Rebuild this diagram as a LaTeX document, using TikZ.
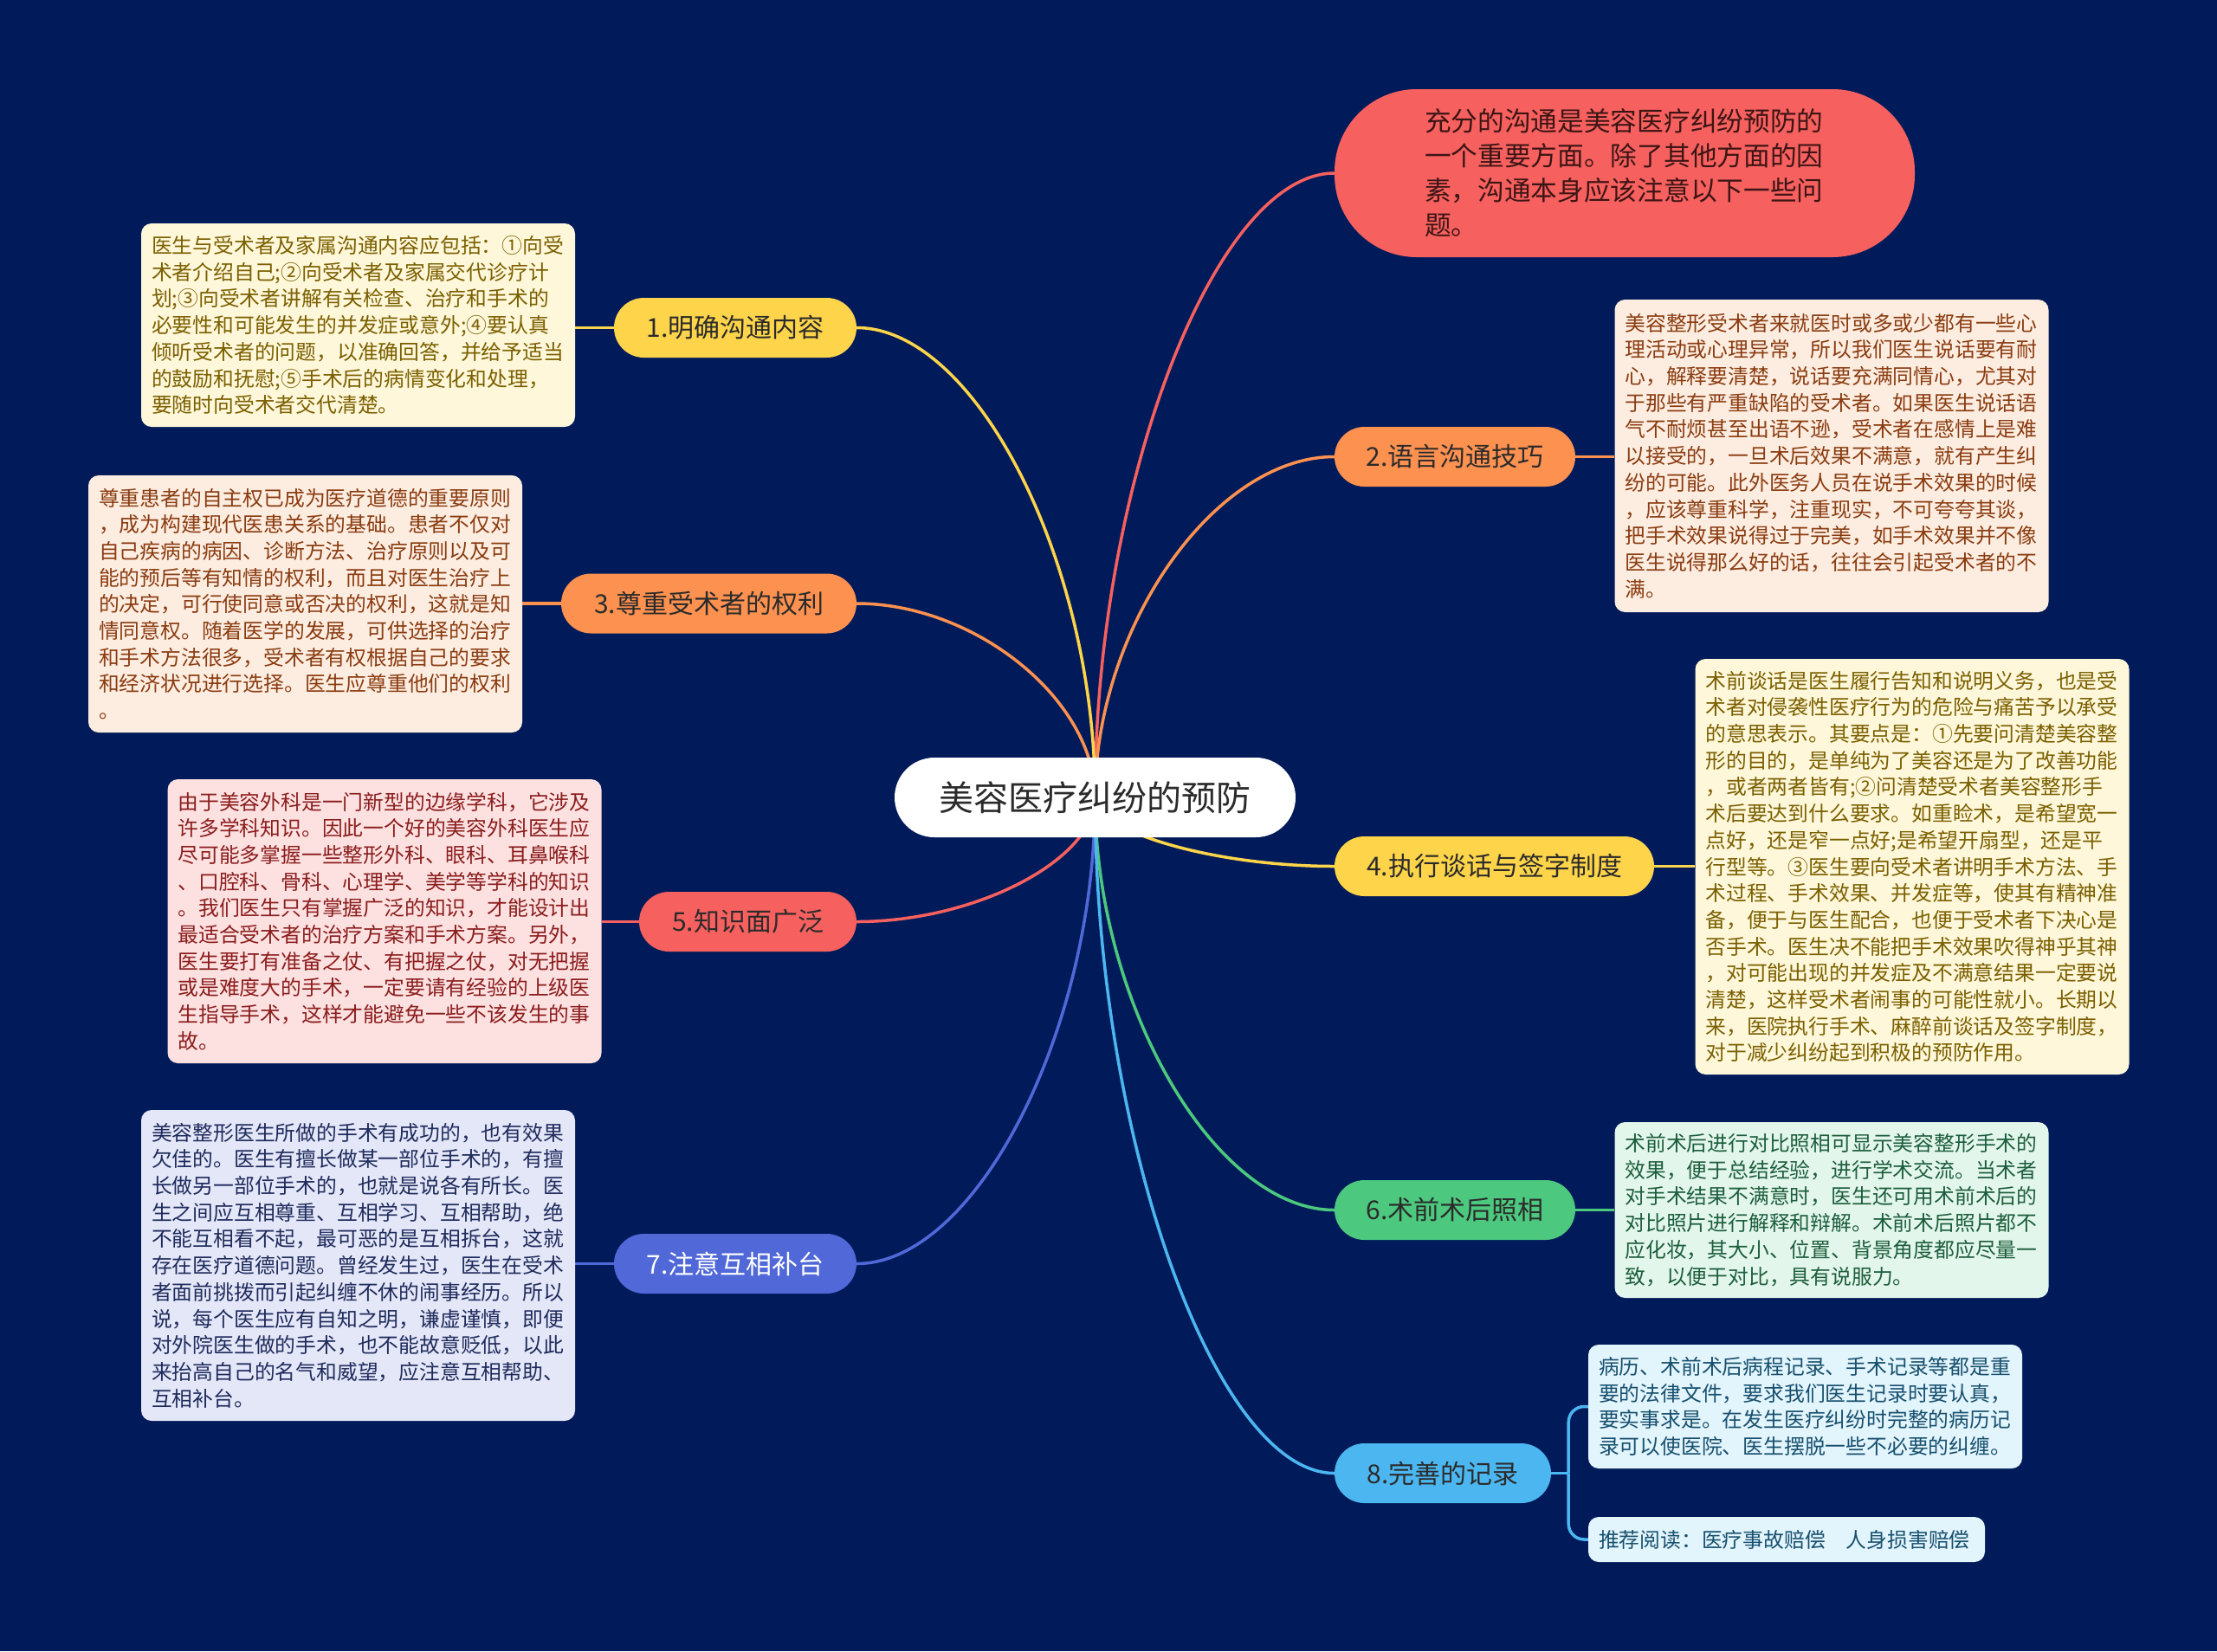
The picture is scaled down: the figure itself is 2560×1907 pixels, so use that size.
\documentclass[tikz,border=0pt]{standalone}
\usepackage{fontspec}
\setmainfont{Noto Sans CJK SC}
\usetikzlibrary{calc}
\pgfdeclarelayer{bgl}
\pgfdeclarelayer{edges}
\pgfsetlayers{bgl,edges,main}
\definecolor{bgc}{RGB}{1,27,90}
\definecolor{cyel}{HTML}{FDD44A}
\definecolor{cora}{HTML}{FD9150}
\definecolor{cred}{HTML}{F6605E}
\definecolor{cgrn}{HTML}{4CC97E}
\definecolor{cblu}{HTML}{5068D8}
\definecolor{csky}{HTML}{4CB6F0}
\definecolor{tdark}{HTML}{2B2B2B}
\definecolor{fyel}{HTML}{FEF7DA}
\definecolor{tyel}{HTML}{7B6000}
\definecolor{fora}{HTML}{FDEDE1}
\definecolor{tora}{HTML}{8A3C10}
\definecolor{fred}{HTML}{FDE1E1}
\definecolor{tred}{HTML}{8B1D1D}
\definecolor{fgrn}{HTML}{E3F6EC}
\definecolor{tgrn}{HTML}{1C5E3C}
\definecolor{fblu}{HTML}{E4E7F8}
\definecolor{tblu}{HTML}{1F2B5C}
\definecolor{fsky}{HTML}{E2F4FC}
\definecolor{tsky}{HTML}{17506E}
\definecolor{ttop}{HTML}{3B1515}
\tikzset{
  leaf/.style={rounded corners=12pt, align=left, text width=477pt, inner xsep=12pt, inner ysep=0pt,
    font=\fontsize{23.8pt}{30.7pt}\selectfont},
  pill/.style={rounded corners=34.5pt, minimum height=69pt, inner sep=0pt,
    font=\fontsize{30pt}{36pt}\selectfont, text=tdark},
  wire/.style={line width=3.5pt}
}
\newcommand\mmconn[3]{\draw[wire,#3] (#1) .. controls ($(#1)!0.5!(#1|-#2)$) and ($(#1|-#2)!0.5!(#2)$) .. (#2);}
\begin{document}
\begin{tikzpicture}[x=1pt,y=-1pt]
\begin{pgfonlayer}{bgl}
\fill[bgc] (0,0) rectangle (2560,1907);
\end{pgfonlayer}
\useasboundingbox (0,0) rectangle (2560,1907);

% center
\node[fill=white, rounded corners=46pt, minimum width=463pt, minimum height=92pt, inner sep=0pt,
  font=\fontsize{40pt}{46pt}\selectfont, text=tdark] (c) at (1264.5,921) {美容医疗纠纷的预防};

% top note
\node[fill=cred, rounded corners=95pt, minimum width=670pt, minimum height=194pt, text width=462pt,
  inner xsep=104pt, inner ysep=0pt, align=left, text=ttop,
  font=\fontsize{30.7pt}{40pt}\selectfont] (top) at (1876,200) {充分的沟通是美容医疗纠纷预防的\\
一个重要方面。除了其他方面的因\\
素，沟通本身应该注意以下一些问\\
题。};

% branches
\node[pill, fill=cyel, minimum width=280pt] (b1) at (849,378.5) {1.明确沟通内容};
\node[pill, fill=cora, minimum width=278pt] (b2) at (1680,527.5) {2.语言沟通技巧};
\node[pill, fill=cora, minimum width=341pt] (b3) at (818.5,697) {3.尊重受术者的权利};
\node[pill, fill=cyel, minimum width=369pt] (b4) at (1725.5,1000.5) {4.执行谈话与签字制度};
\node[pill, fill=cred, minimum width=251pt] (b5) at (863.5,1064.5) {5.知识面广泛};
\node[pill, fill=cgrn, minimum width=278pt] (b6) at (1680,1397.5) {6.术前术后照相};
\node[pill, fill=cblu, minimum width=280pt, text=white] (b7) at (849,1459.5) {7.注意互相补台};
\node[pill, fill=csky, minimum width=250pt] (b8) at (1666,1701.5) {8.完善的记录};

% leaves
\node[leaf, fill=fyel, text=tyel, minimum height=235pt] (l1) at (413.5,375.5) {医生与受术者及家属沟通内容应包括：①向受\\
术者介绍自己;②向受术者及家属交代诊疗计\\
划;③向受术者讲解有关检查、治疗和手术的\\
必要性和可能发生的并发症或意外;④要认真\\
倾听受术者的问题，以准确回答，并给予适当\\
的鼓励和抚慰;⑤手术后的病情变化和处理，\\
要随时向受术者交代清楚。};

\node[leaf, fill=fora, text=tora, minimum height=361pt] (l2) at (2115,526.5) {美容整形受术者来就医时或多或少都有一些心\\
理活动或心理异常，所以我们医生说话要有耐\\
心，解释要清楚，说话要充满同情心，尤其对\\
于那些有严重缺陷的受术者。如果医生说话语\\
气不耐烦甚至出语不逊，受术者在感情上是难\\
以接受的，一旦术后效果不满意，就有产生纠\\
纷的可能。此外医务人员在说手术效果的时候\\
，应该尊重科学，注重现实，不可夸夸其谈，\\
把手术效果说得过于完美，如手术效果并不像\\
医生说得那么好的话，往往会引起受术者的不\\
满。};

\node[leaf, fill=fora, text=tora, minimum height=297pt] (l3) at (352.5,697.5) {尊重患者的自主权已成为医疗道德的重要原则\\
，成为构建现代医患关系的基础。患者不仅对\\
自己疾病的病因、诊断方法、治疗原则以及可\\
能的预后等有知情的权利，而且对医生治疗上\\
的决定，可行使同意或否决的权利，这就是知\\
情同意权。随着医学的发展，可供选择的治疗\\
和手术方法很多，受术者有权根据自己的要求\\
和经济状况进行选择。医生应尊重他们的权利\\
。};

\node[leaf, fill=fyel, text=tyel, minimum height=480pt] (l4) at (2208,1001) {术前谈话是医生履行告知和说明义务，也是受\\
术者对侵袭性医疗行为的危险与痛苦予以承受\\
的意思表示。其要点是：①先要问清楚美容整\\
形的目的，是单纯为了美容还是为了改善功能\\
，或者两者皆有;②问清楚受术者美容整形手\\
术后要达到什么要求。如重睑术，是希望宽一\\
点好，还是窄一点好;是希望开扇型，还是平\\
行型等。③医生要向受术者讲明手术方法、手\\
术过程、手术效果、并发症等，使其有精神准\\
备，便于与医生配合，也便于受术者下决心是\\
否手术。医生决不能把手术效果吹得神乎其神\\
，对可能出现的并发症及不满意结果一定要说\\
清楚，这样受术者闹事的可能性就小。长期以\\
来，医院执行手术、麻醉前谈话及签字制度，\\
对于减少纠纷起到积极的预防作用。};

\node[leaf, fill=fred, text=tred, minimum height=328pt] (l5) at (444,1064) {由于美容外科是一门新型的边缘学科，它涉及\\
许多学科知识。因此一个好的美容外科医生应\\
尽可能多掌握一些整形外科、眼科、耳鼻喉科\\
、口腔科、骨科、心理学、美学等学科的知识\\
。我们医生只有掌握广泛的知识，才能设计出\\
最适合受术者的治疗方案和手术方案。另外，\\
医生要打有准备之仗、有把握之仗，对无把握\\
或是难度大的手术，一定要请有经验的上级医\\
生指导手术，这样才能避免一些不该发生的事\\
故。};

\node[leaf, fill=fgrn, text=tgrn, minimum height=203pt] (l6) at (2115,1397.5) {术前术后进行对比照相可显示美容整形手术的\\
效果，便于总结经验，进行学术交流。当术者\\
对手术结果不满意时，医生还可用术前术后的\\
对比照片进行解释和辩解。术前术后照片都不\\
应化妆，其大小、位置、背景角度都应尽量一\\
致，以便于对比，具有说服力。};

\node[leaf, fill=fblu, text=tblu, minimum height=359pt] (l7) at (413.5,1461.5) {美容整形医生所做的手术有成功的，也有效果\\
欠佳的。医生有擅长做某一部位手术的，有擅\\
长做另一部位手术的，也就是说各有所长。医\\
生之间应互相尊重、互相学习、互相帮助，绝\\
不能互相看不起，最可恶的是互相拆台，这就\\
存在医疗道德问题。曾经发生过，医生在受术\\
者面前挑拨而引起纠缠不休的闹事经历。所以\\
说，每个医生应有自知之明，谦虚谨慎，即便\\
对外院医生做的手术，也不能故意贬低，以此\\
来抬高自己的名气和威望，应注意互相帮助、\\
互相补台。};

\node[leaf, fill=fsky, text=tsky, minimum height=143pt] (l8a) at (2084.5,1624.5) {病历、术前术后病程记录、手术记录等都是重\\
要的法律文件，要求我们医生记录时要认真，\\
要实事求是。在发生医疗纠纷时完整的病历记\\
录可以使医院、医生摆脱一些不必要的纠缠。};

\node[leaf, fill=fsky, text=tsky, text width=434pt, minimum height=52pt] (l8b) at (2063,1778) {推荐阅读：医疗事故赔偿\hspace{24pt}人身损害赔偿};

% connectors
\begin{pgfonlayer}{edges}
\mmconn{c.center}{top.west}{cred}
\mmconn{c.center}{b1.east}{cyel}
\mmconn{c.center}{b2.west}{cora}
\mmconn{c.center}{b3.east}{cora}
\mmconn{c.center}{b4.west}{cyel}
\mmconn{c.center}{b5.east}{cred}
\mmconn{c.center}{b6.west}{cgrn}
\mmconn{c.center}{b7.east}{cblu}
\mmconn{c.center}{b8.west}{csky}
\draw[wire,cyel] (b1.west) -- (b1.west -| l1.east);
\draw[wire,cora] (b2.east) -- (b2.east -| l2.west);
\draw[wire,cora] (b3.west) -- (b3.west -| l3.east);
\draw[wire,cyel] (b4.east) -- (b4.east -| l4.west);
\draw[wire,cred] (b5.west) -- (b5.west -| l5.east);
\draw[wire,cgrn] (b6.east) -- (b6.east -| l6.west);
\draw[wire,cblu] (b7.west) -- (b7.west -| l7.east);
\draw[wire,csky] (b8.east) -- ++(20,0) coordinate (j8);
\draw[wire,csky,rounded corners=18pt] (j8) |- (l8a.west);
\draw[wire,csky,rounded corners=18pt] (j8) |- (l8b.west);
\end{pgfonlayer}
\end{tikzpicture}
\end{document}
